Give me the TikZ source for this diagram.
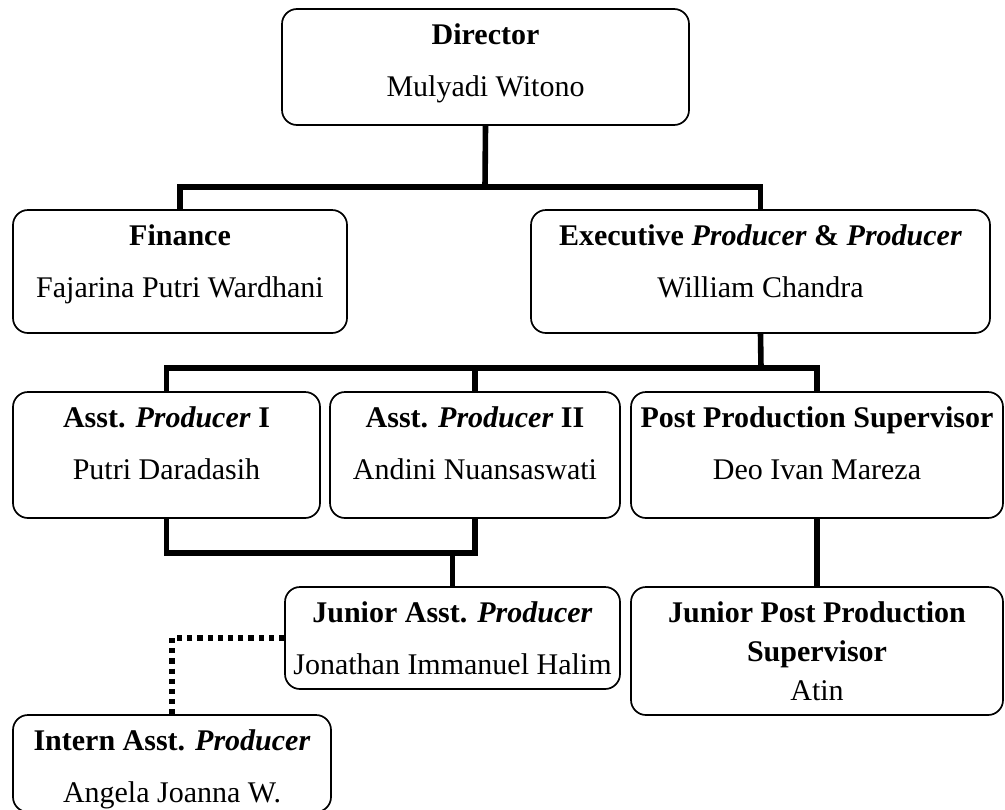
\documentclass[tikz,border=0pt]{standalone}
\usepackage{fontspec}
\setmainfont{Liberation Serif}
\usetikzlibrary{positioning}
\tikzset{
    postbox/.style={draw, line width=0.85pt, rounded corners=7.5pt, inner sep=0pt},
    words/.style={align=center, inner sep=0pt, font=\fontsize{15}{26}\selectfont},
    link/.style={line width=2.8pt},
    dotlink/.style={line width=2.6pt, dash pattern=on 2.6pt off 2.5pt},
}
\newcommand{\post}[5]{
    \node[postbox, minimum width={(#4-#2)*0.5pt}, minimum height={(#5-#3)*0.5pt}]
        (#1) at ({(#2+#4)/2},{(#3+#5)/2}) {};
}

\begin{document}
\begin{tikzpicture}[x=0.5pt, y=-0.5pt]
            \useasboundingbox (0,0) rectangle (1005,809);
            \post{dir}{282}{9}{689}{125}
            \post{fin}{13}{210}{347}{333}
            \post{exec}{531}{210}{990}{333}
            \post{ap1}{13}{392}{320}{518}
            \post{ap2}{330}{392}{620}{518}
            \post{pps}{631}{392}{1003}{518}
            \post{jap}{285}{587}{620}{689}
            \post{jpps}{631}{587}{1003}{715}
            \post{int}{13}{715}{331}{812}
            \node[words, below=7.5pt of dir.north] (dirtext)
            {\textbf{Director}\\Mulyadi Witono};
            \node[words, below=7.5pt of fin.north] (fintext)
            {\textbf{Finance}\\Fajarina Putri Wardhani};
            \node[words, below=7.5pt of exec.north] (exectext)
            {\textbf{Executive \textit{Producer} \& \textit{Producer}}\\William Chandra};
            \node[words, below=7.5pt of ap1.north] (ap1text)
            {\textbf{Asst. \textit{Producer} I}\\Putri Daradasih};
            \node[words, below=7.5pt of ap2.north] (ap2text)
            {\textbf{Asst. \textit{Producer} II}\\Andini Nuansaswati};
            \node[words, below=7.5pt of pps.north] (ppstext)
            {\textbf{Post Production Supervisor}\\Deo Ivan Mareza};
            \node[words, below=7.5pt of jap.north] (japtext)
            {\textbf{Junior Asst. \textit{Producer}}\\Jonathan Immanuel Halim};
            \node[words, font=\fontsize{15}{19.5}\selectfont, below=7.5pt of jpps.north] (jppstext)
            {\textbf{Junior Post Production}\\\textbf{Supervisor}\\Atin};
            \node[words, below=7.5pt of int.north] (inttext)
            {\textbf{Intern Asst. \textit{Producer}}\\Angela Joanna W.};
            \coordinate (bar1) at (485,187);
            \coordinate (bar2) at (761,368);
            \coordinate (bar3) at (453,553);
            \draw[link] (dir.south) -- (bar1);
            \draw[link] (fin.north) |- (bar1) -| (exec.north);
            \draw[link] (exec.south) -- (bar2);
            \draw[link] (ap1.north) |- (bar2) -| (pps.north);
            \draw[link] (ap2.north) -- (ap2.north |- bar2);
            \draw[link] (ap1.south) |- (bar3) -| (ap2.south);
            \draw[link] (jap.north |- bar3) -- (jap.north);
            \draw[link] (pps.south) -- (jpps.north);
            \draw[dotlink] (jap.west) -| (int.north);
        \end{tikzpicture}
\end{document}
